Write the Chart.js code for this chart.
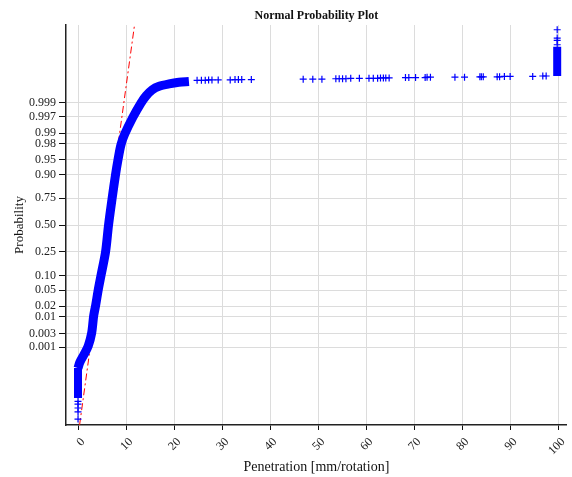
<!DOCTYPE html>
<html>
<head>
<meta charset="utf-8">
<script src="https://cdn.jsdelivr.net/npm/chart.js@4.4.1/dist/chart.umd.min.js"></script>
<style>
  html, body { margin: 0; padding: 0; background: #fff; }
  #wrap { width: 572px; height: 477px; }
</style>
</head>
<body>
<div id="wrap"><canvas id="probPlot"></canvas></div>
<script>
// probability levels shown on the y axis (normal / probit scale)
const probTicks = ['0.001', '0.003', '0.01', '0.02', '0.05', '0.10', '0.25', '0.50',
                   '0.75', '0.90', '0.95', '0.98', '0.99', '0.997', '0.999'];
const xTicks = [0, 10, 20, 30, 40, 50, 60, 70, 80, 90, 100];

// stack of samples at zero (lower tail)
const stackX = [0, 0];
const stackZ = [-4.38, -3.62];

// dense body of the sample, read along the middle of the blue band (x, normal score)
const bandX = [0, 0.4, 1.2, 2.13, 2.85, 3.26, 3.68, 4.2, 4.8, 5.74, 6.36, 7.09, 7.81,
               8.33, 8.95, 9.73, 11.4, 13.08, 14.2, 15.45, 16.9, 18.97, 21.0, 23.1];
const bandZ = [-3.62, -3.47, -3.29, -3.06, -2.73, -2.30, -2.03, -1.65, -1.27, -0.68, 0, 0.66, 1.27,
               1.65, 2.03, 2.30, 2.72, 3.08, 3.27, 3.42, 3.51, 3.57, 3.61, 3.63];

// single points below the stack at zero
const lowX = [0, 0, 0, 0, 0];
const lowZ = [-4.46, -4.53, -4.63, -4.73, -4.91];

// loose upper-tail points
const tailX = [24.8, 25.7, 26.5, 27.2, 27.9, 29.2, 31.7, 32.7, 33.4, 34.1, 36.1,
               46.9, 48.9, 50.8, 53.7, 54.4, 55.1, 55.8, 56.8, 58.6,
               60.6, 61.5, 62.4, 63.0, 63.6, 64.1, 64.8, 68.2, 68.9, 70.3,
               72.3, 72.7, 73.4, 78.5, 80.5, 83.7, 84.0, 84.4, 87.3, 87.8, 88.8, 90.0,
               94.7, 96.8, 97.5];
const tailZ = [3.66, 3.66, 3.66, 3.67, 3.67, 3.67, 3.67, 3.68, 3.68, 3.68, 3.68,
               3.69, 3.69, 3.69, 3.70, 3.70, 3.70, 3.70, 3.71, 3.71,
               3.71, 3.71, 3.71, 3.72, 3.72, 3.72, 3.72, 3.73, 3.73, 3.73,
               3.73, 3.74, 3.74, 3.74, 3.74, 3.75, 3.75, 3.75, 3.75, 3.75, 3.76, 3.76,
               3.76, 3.77, 3.77];

// pile of samples at 100
const pileX = [99.8, 99.8];
const pileZ = [3.77, 4.51];
const pileTopX = [99.8, 99.8, 99.8, 99.8];
const pileTopZ = [4.56, 4.67, 4.73, 4.94];

// fitted normal reference line
const refX = [0.33, 11.77];
const refZ = [-5.06, 5.06];

// inverse standard normal CDF (Acklam)
function norminv(p) {
  const a = [-3.969683028665376e+01, 2.209460984245205e+02, -2.759285104469687e+02,
             1.383577518672690e+02, -3.066479806614716e+01, 2.506628277459239e+00];
  const b = [-5.447609879822406e+01, 1.615858368580409e+02, -1.556989798598866e+02,
             6.680131188771972e+01, -1.328068155288572e+01];
  const c = [-7.784894002430293e-03, -3.223964580411365e-01, -2.400758277161838e+00,
             -2.549732539343734e+00, 4.374645813806926e+00, 2.938163982698783e+00];
  const d = [7.784695709041462e-03, 3.224671290700398e-01, 2.445134137142996e+00,
             3.754408661907416e+00];
  const pl = 0.02425;
  let q, r;
  if (p < pl) {
    q = Math.sqrt(-2 * Math.log(p));
    return (((((c[0]*q+c[1])*q+c[2])*q+c[3])*q+c[4])*q+c[5]) / ((((d[0]*q+d[1])*q+d[2])*q+d[3])*q+1);
  }
  if (p > 1 - pl) {
    q = Math.sqrt(-2 * Math.log(1 - p));
    return -(((((c[0]*q+c[1])*q+c[2])*q+c[3])*q+c[4])*q+c[5]) / ((((d[0]*q+d[1])*q+d[2])*q+d[3])*q+1);
  }
  q = p - 0.5;
  r = q * q;
  return (((((a[0]*r+a[1])*r+a[2])*r+a[3])*r+a[4])*r+a[5])*q / (((((b[0]*r+b[1])*r+b[2])*r+b[3])*r+b[4])*r+1);
}

const pts = (xs, zs) => xs.map((x, i) => ({ x: x, y: zs[i] }));
const tickZ = probTicks.map(p => norminv(parseFloat(p)));

Chart.defaults.font.family = '"Liberation Serif", "Times New Roman", serif';
Chart.defaults.color = '#222';

const blue = '#0000ff';

// draws the heading centred over the plot area
const titlePlugin = {
  id: 'plotTitle',
  afterDraw(chart) {
    const ctx = chart.ctx;
    const ca = chart.chartArea;
    ctx.save();
    ctx.font = 'bold 12px "Liberation Serif", serif';
    ctx.fillStyle = '#111';
    ctx.textAlign = 'center';
    ctx.textBaseline = 'alphabetic';
    ctx.fillText('Normal Probability Plot', (ca.left + ca.right) / 2, 19);
    ctx.restore();
  }
};

const ctx = document.getElementById('probPlot').getContext('2d');
const probPlot = new Chart(ctx, {
  type: 'scatter',
  data: {
    datasets: [
      {
        data: pts(bandX, bandZ),
        showLine: true,
        borderColor: blue,
        borderWidth: 9,
        borderJoinStyle: 'round',
        borderCapStyle: 'butt',
        pointRadius: 0,
        tension: 0.3
      },
      {
        data: pts(stackX, stackZ),
        showLine: true,
        borderColor: blue,
        borderWidth: 8,
        borderCapStyle: 'butt',
        pointRadius: 0
      },
      {
        data: pts(pileX, pileZ),
        showLine: true,
        borderColor: blue,
        borderWidth: 8,
        borderCapStyle: 'butt',
        pointRadius: 0
      },
      {
        data: pts(lowX, lowZ).concat(pts(tailX, tailZ), pts(pileTopX, pileTopZ)),
        showLine: false,
        pointStyle: 'cross',
        pointRadius: 3.5,
        borderWidth: 1.2,
        borderColor: blue,
        backgroundColor: blue
      },
      {
        data: pts(refX, refZ),
        showLine: true,
        borderColor: '#ff0000',
        borderWidth: 1,
        borderDash: [7, 3, 2, 3],
        pointRadius: 0
      }
    ]
  },
  options: {
    responsive: true,
    maintainAspectRatio: false,
    animation: false,
    events: [],
    layout: { padding: { top: 25, right: 1, left: 0, bottom: 0 } },
    plugins: {
      legend: { display: false },
      tooltip: { enabled: false },
      title: { display: false }
    },
    scales: {
      x: {
        type: 'linear',
        min: -2.5,
        max: 101.8,
        afterBuildTicks: scale => { scale.ticks = xTicks.map(v => ({ value: v })); },
        afterFit: scale => { scale.height = 52; scale.paddingLeft = 0; scale.paddingRight = 0; },
        ticks: {
          minRotation: 45,
          maxRotation: 45,
          autoSkip: false,
          labelOffset: 5,
          padding: 5,
          color: '#222',
          font: { size: 12 }
        },
        grid: { color: '#dcdcdc', lineWidth: 1, tickColor: '#111', tickLength: 5 },
        border: { color: '#222', width: 1.5 },
        title: {
          display: true,
          text: 'Penetration [mm/rotation]',
          color: '#111',
          font: { size: 14 },
          padding: { top: 0, bottom: 1 }
        }
      },
      y: {
        type: 'linear',
        min: -5.06,
        max: 5.06,
        afterBuildTicks: scale => { scale.ticks = tickZ.map(v => ({ value: v })); },
        afterFit: scale => { scale.width = 66; scale.paddingTop = 0; scale.paddingBottom = 0; },
        ticks: {
          autoSkip: false,
          padding: 3,
          color: '#222',
          font: { size: 12 },
          callback: function (value) {
            const i = tickZ.findIndex(z => Math.abs(z - value) < 1e-6);
            return i >= 0 ? probTicks[i] : '';
          }
        },
        grid: { color: '#dcdcdc', lineWidth: 1, tickColor: '#111', tickLength: 7 },
        border: { color: '#222', width: 1.5 },
        title: {
          display: true,
          text: 'Probability',
          color: '#111',
          font: { size: 13 },
          padding: { top: 12, bottom: 0 }
        }
      }
    }
  },
  plugins: [titlePlugin]
});
</script>
</body>
</html>
